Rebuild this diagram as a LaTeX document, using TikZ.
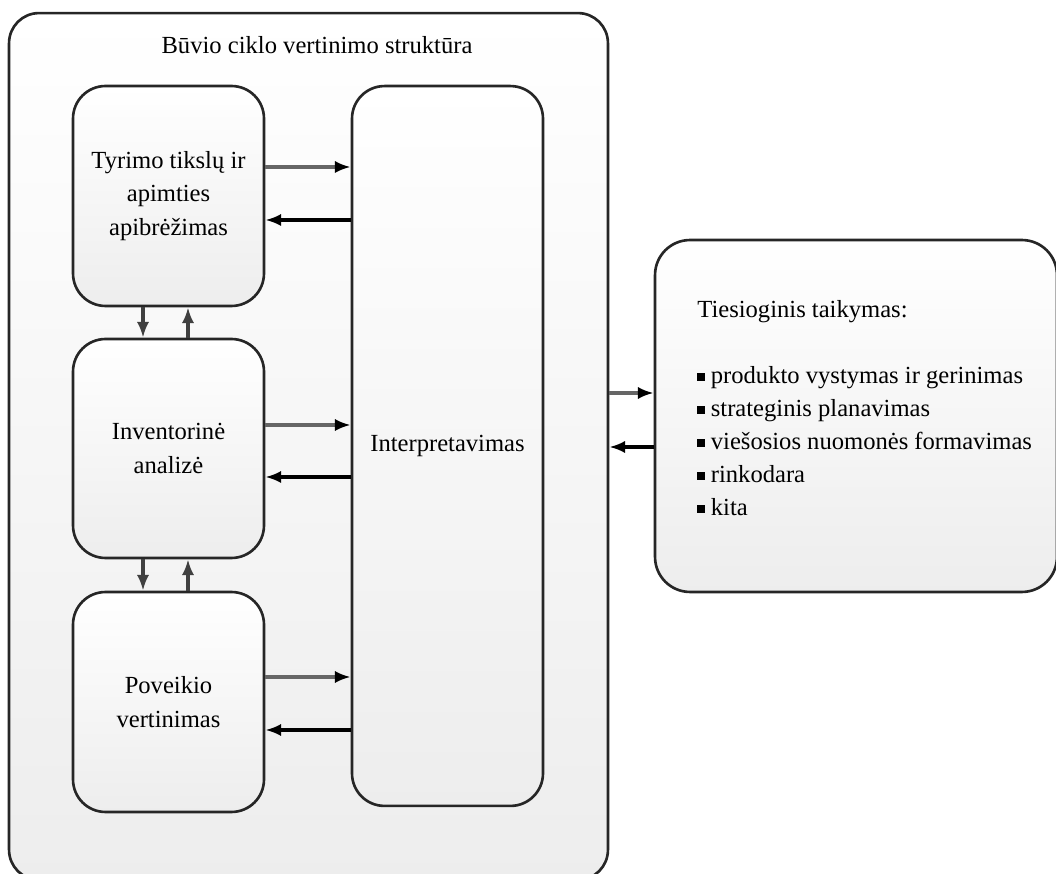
\documentclass[tikz,border=0pt]{standalone}
\usepackage{fontspec}
\setmainfont{Liberation Serif}
\usetikzlibrary{arrows.meta}

\begin{document}
\begin{tikzpicture}[x=0.02cm,y=-0.02cm,
  font=\fontsize{14}{19}\selectfont,
  blok/.style={draw=black!85,line width=1.5pt,rounded corners=0.65cm,top color=white,bottom color=black!7,align=center,inner sep=0pt},
  pirmyn/.style={draw=black!60,line width=2pt,-{Latex[length=9pt,width=7pt,black]}},
  atgal/.style={draw=black,line width=2pt,-{Latex[length=9pt,width=7pt]}}]
\clip (0,0) rectangle (1056,874);
\fill[white] (0,0) rectangle (1056,874);
% isorinis remas
\node[blok,rounded corners=0.6cm,bottom color=black!7,minimum width=11.98cm,minimum height=17.34cm] (struktura) at (308.5,446.5) {};
\node (pavadinimas) at (317,45) {Būvio ciklo vertinimo struktūra};
% etapai
\node[blok,minimum width=3.82cm,minimum height=4.4cm] (tyrimas) at (168.5,196) {Tyrimo tikslų ir\\apimties\\apibrėžimas};
\node[blok,minimum width=3.82cm,minimum height=4.38cm] (inventorine) at (168.5,448.5) {Inventorinė\\analizė};
\node[blok,minimum width=3.82cm,minimum height=4.4cm] (poveikis) at (168.5,702) {Poveikio\\vertinimas};
\node[blok,minimum width=3.82cm,minimum height=14.4cm] (interpretavimas) at (447.5,446) {Interpretavimas};
% taikymas
\node[blok,rounded corners=0.7cm,minimum width=8.04cm,minimum height=7.04cm] (taikymas) at (856,416) {};
\node[anchor=north west,align=left,inner sep=0pt,font=\fontsize{14}{18.8}\selectfont] (sarasas) at (697,300) {Tiesioginis taikymas:\\[18.8pt]
\raisebox{0.25ex}{\rule{0.3em}{0.3em}} produkto vystymas ir gerinimas\\
\raisebox{0.25ex}{\rule{0.3em}{0.3em}} strateginis planavimas\\
\raisebox{0.25ex}{\rule{0.3em}{0.3em}} viešosios nuomonės formavimas\\
\raisebox{0.25ex}{\rule{0.3em}{0.3em}} rinkodara\\
\raisebox{0.25ex}{\rule{0.3em}{0.3em}} kita};
% rodykles
\draw[pirmyn] (tyrimas.east |- 0,167) -- (interpretavimas.west |- 0,167);
\draw[atgal] (interpretavimas.west |- 0,220) -- (tyrimas.east |- 0,220);
\draw[pirmyn] (inventorine.east |- 0,425) -- (interpretavimas.west |- 0,425);
\draw[atgal] (interpretavimas.west |- 0,477) -- (inventorine.east |- 0,477);
\draw[pirmyn] (poveikis.east |- 0,677) -- (interpretavimas.west |- 0,677);
\draw[atgal] (interpretavimas.west |- 0,730) -- (poveikis.east |- 0,730);
\draw[atgal,draw=black!75] (tyrimas.south -| 143,0) -- (inventorine.north -| 143,0);
\draw[atgal,draw=black!75] (inventorine.north -| 188,0) -- (tyrimas.south -| 188,0);
\draw[atgal,draw=black!75] (inventorine.south -| 143,0) -- (poveikis.north -| 143,0);
\draw[atgal,draw=black!75] (poveikis.north -| 188,0) -- (inventorine.south -| 188,0);
\draw[pirmyn] (struktura.east |- 0,393) -- (taikymas.west |- 0,393);
\draw[atgal] (taikymas.west |- 0,447) -- (struktura.east |- 0,447);
\end{tikzpicture}
\end{document}
